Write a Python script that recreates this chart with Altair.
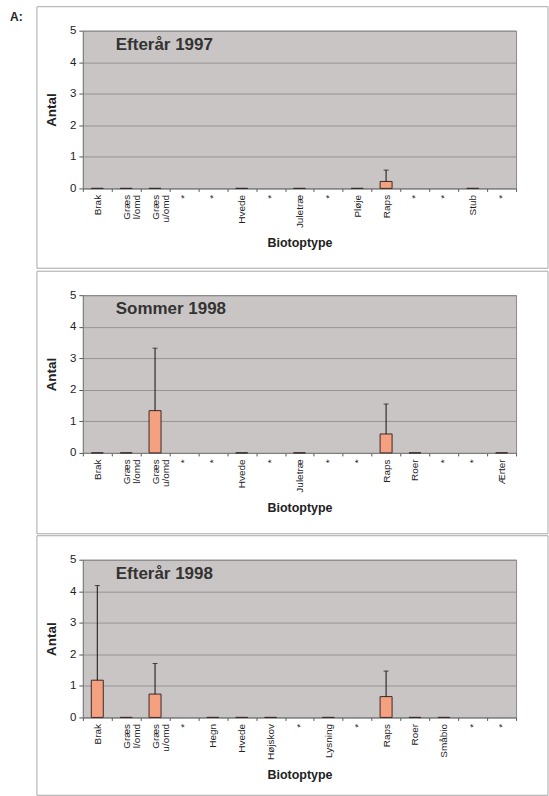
import json
import altair as alt
import pandas as pd

FONT = "Liberation Sans"

# ---- data ----
labels_1997 = ["Brak", "Græs l/omd", "Græs u/omd", "*", "*", "Hvede", "*", "Juletræ", "*", "Pløje", "Raps", "*", "*", "Stub", "*"]
mean_1997 = [0, 0, 0, None, None, 0, None, 0, None, 0, 0.22, None, None, 0, None]
upper_1997 = [None, None, None, None, None, None, None, None, None, None, 0.58, None, None, None, None]

labels_s1998 = ["Brak", "Græs l/omd", "Græs u/omd", "*", "*", "Hvede", "*", "Juletræ", "*", "*", "Raps", "Roer", "*", "*", "Ærter"]
mean_s1998 = [0, 0, 1.34, None, None, 0, None, 0, None, None, 0.6, 0, None, None, 0]
upper_s1998 = [None, None, 3.32, None, None, None, None, None, None, None, 1.55, None, None, None, None]

labels_e1998 = ["Brak", "Græs l/omd", "Græs u/omd", "*", "Hegn", "Hvede", "Højskov", "*", "Lysning", "*", "Raps", "Roer", "Småbio", "*", "*"]
mean_e1998 = [1.18, 0, 0.74, None, 0, 0, 0, None, 0, None, 0.66, 0, 0, None, None]
upper_e1998 = [4.18, None, 1.71, None, None, None, None, None, None, None, 1.47, None, None, None, None]

titles = ["Efterår 1997", "Sommer 1998", "Efterår 1998"]
y_ticks = [0, 1, 2, 3, 4, 5]

W, H = 434, 158


def label_expr(labels):
    arr = [l.split(" ") if "/" in l else [l] for l in labels]
    return json.dumps(arr, ensure_ascii=False) + "[datum.value]"


def panel(labels, means, uppers, title, first=False, frame_bottom=238):
    n = len(labels)
    df = pd.DataFrame({"pos": list(range(n)), "mean": means, "upper": uppers})
    xscale = alt.Scale(domain=list(range(n)), paddingInner=0, paddingOuter=0)
    xaxis = alt.Axis(
        labelAngle=270,
        labelExpr=label_expr(labels),
        labelFont=FONT,
        labelFontSize=10,
        labelColor="#222222",
        labelLineHeight=10,
        labelPadding=3,
        tickBand="extent",
        tickSize=3,
        tickColor="#555555",
        domainColor="#808080",
        title="Biotoptype",
        titleFont=FONT,
        titleFontSize=12.5,
        titleFontWeight="bold",
        titleColor="#222222",
        titlePadding=9,
        grid=False,
    )
    yscale = alt.Scale(domain=[0, 5], nice=False)
    yaxis = alt.Axis(
        values=y_ticks,
        grid=True,
        gridColor="#7f7f7f",
        gridWidth=0.7,
        domainColor="#808080",
        tickColor="#555555",
        tickSize=4,
        labelFont=FONT,
        labelFontSize=11.5,
        labelColor="#222222",
        labelPadding=3,
        title="Antal",
        titleFont=FONT,
        titleFontSize=13.5,
        titleFontWeight="bold",
        titleColor="#222222",
        titlePadding=11,
    )
    xenc = alt.X("pos:O", scale=xscale, axis=xaxis)
    base = alt.Chart(df)
    one = pd.DataFrame({"k": [0]})
    frame = alt.Chart(one).mark_rect(
        fillOpacity=0, stroke="#a8a8a8", strokeWidth=1
    ).encode(
        x=alt.value(-46), x2=alt.value(466), y=alt.value(-24), y2=alt.value(frame_bottom)
    )
    bars = base.transform_filter("datum.mean != null").mark_bar(
        size=12, fill="#f5a07f", stroke="#3a2a2a", strokeWidth=1
    ).encode(x=xenc, y=alt.Y("mean:Q", scale=yscale, axis=yaxis))
    err = base.transform_filter("datum.upper != null").mark_rule(
        color="#111111", strokeWidth=1
    ).encode(x=xenc, y=alt.Y("mean:Q", scale=yscale, axis=yaxis), y2="upper:Q")
    cap = base.transform_filter("datum.upper != null").mark_tick(
        color="#111111", size=5, thickness=1, orient="horizontal"
    ).encode(x=xenc, y=alt.Y("upper:Q", scale=yscale, axis=yaxis))
    ttl = alt.Chart(one).mark_text(
        text=title, align="left", baseline="alphabetic", font=FONT,
        fontSize=17, fontWeight="bold", color="#333333"
    ).encode(x=alt.value(33), y=alt.value(19))
    layers = [frame, bars, err, cap, ttl]
    if first:
        atext = alt.Chart(one).mark_text(
            text="A:", align="left", baseline="alphabetic", font=FONT,
            fontSize=12, fontWeight="bold", color="#222222"
        ).encode(x=alt.value(-73), y=alt.value(-10))
        layers.append(atext)
    return alt.layer(*layers).properties(width=W, height=H)


p1 = panel(labels_1997, mean_1997, upper_1997, titles[0], first=True)
p2 = panel(labels_s1998, mean_s1998, upper_s1998, titles[1], frame_bottom=239)
p3 = panel(labels_e1998, mean_e1998, upper_e1998, titles[2], frame_bottom=236)

chart = alt.vconcat(p1, p2, p3, spacing=107, bounds="flush").properties(
    padding={"left": 9, "top": 5, "right": 0, "bottom": 0},
    background="white",
).configure_view(fill="#c9c5c4", stroke="#8a8a8a", strokeWidth=1)

chart.save("out.html", embed_options={"renderer": "svg", "actions": False})
